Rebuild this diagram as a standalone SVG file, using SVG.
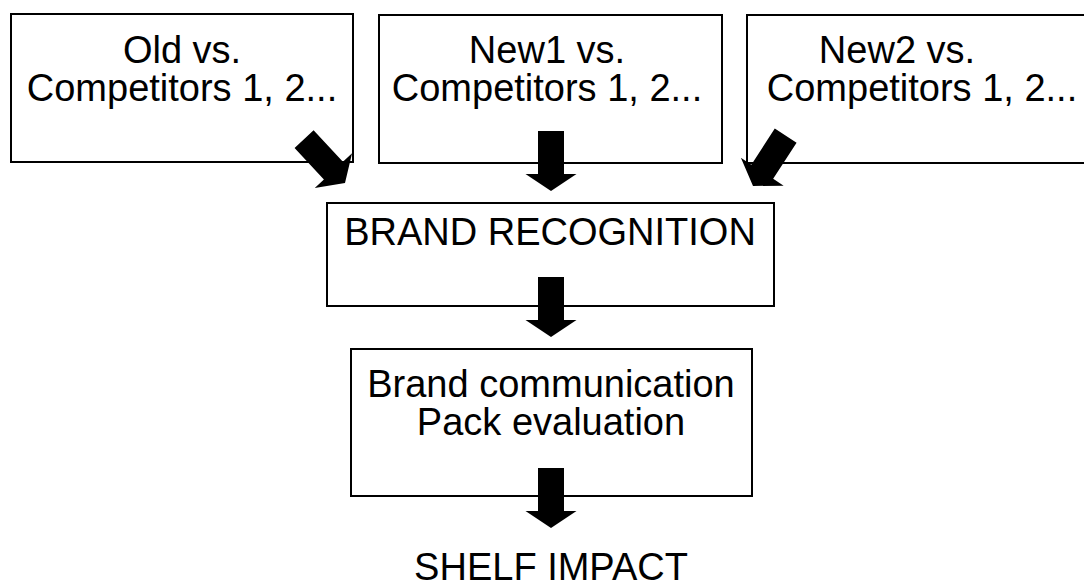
<svg xmlns="http://www.w3.org/2000/svg" width="1084" height="588" viewBox="0 0 1084 588">
<style>
.box{fill:#fff;stroke:#000;stroke-width:2}
.t{font-family:"Liberation Sans",Arial,sans-serif;font-size:38px;fill:#000;text-anchor:middle}
.arr{fill:#000;stroke:none}
</style>
<defs>
<path id="arrow" d="M-13,-60 H13 V-17 H25.5 L0,0 L-25.5,-17 H-13 Z"/>
</defs>
<rect width="1084" height="588" fill="#fff"/>
<g id="old">
<rect class="box" x="11" y="14" width="342" height="148"/>
<text class="t" x="182" y="63">Old vs.</text>
<text class="t" x="182" y="101">Competitors 1, 2...</text>
</g>
<g id="new1">
<rect class="box" x="379" y="15" width="343" height="148"/>
<text class="t" x="547" y="63">New1 vs.</text>
<text class="t" x="547" y="101">Competitors 1, 2...</text>
</g>
<g id="new2">
<rect class="box" x="747" y="15" width="350" height="148"/>
<text class="t" x="897" y="63">New2 vs.</text>
<text class="t" x="922" y="101">Competitors 1, 2...</text>
</g>
<g id="brand-recognition">
<rect class="box" x="327" y="203" width="447" height="103"/>
<text class="t" x="550" y="245">BRAND RECOGNITION</text>
</g>
<g id="brand-communication">
<rect class="box" x="351" y="349" width="401" height="147"/>
<text class="t" x="551" y="397">Brand communication</text>
<text class="t" x="551" y="435">Pack evaluation</text>
</g>
<g id="shelf-impact">
<text class="t" x="551" y="580">SHELF IMPACT</text>
</g>
<g id="connectors" class="arr">
<use href="#arrow" transform="translate(345,183) rotate(-43)"/>
<use href="#arrow" transform="translate(551,191)"/>
<use href="#arrow" transform="translate(753,186) rotate(33)"/>
<use href="#arrow" transform="translate(551,337)"/>
<use href="#arrow" transform="translate(551,528)"/>
</g>
</svg>
